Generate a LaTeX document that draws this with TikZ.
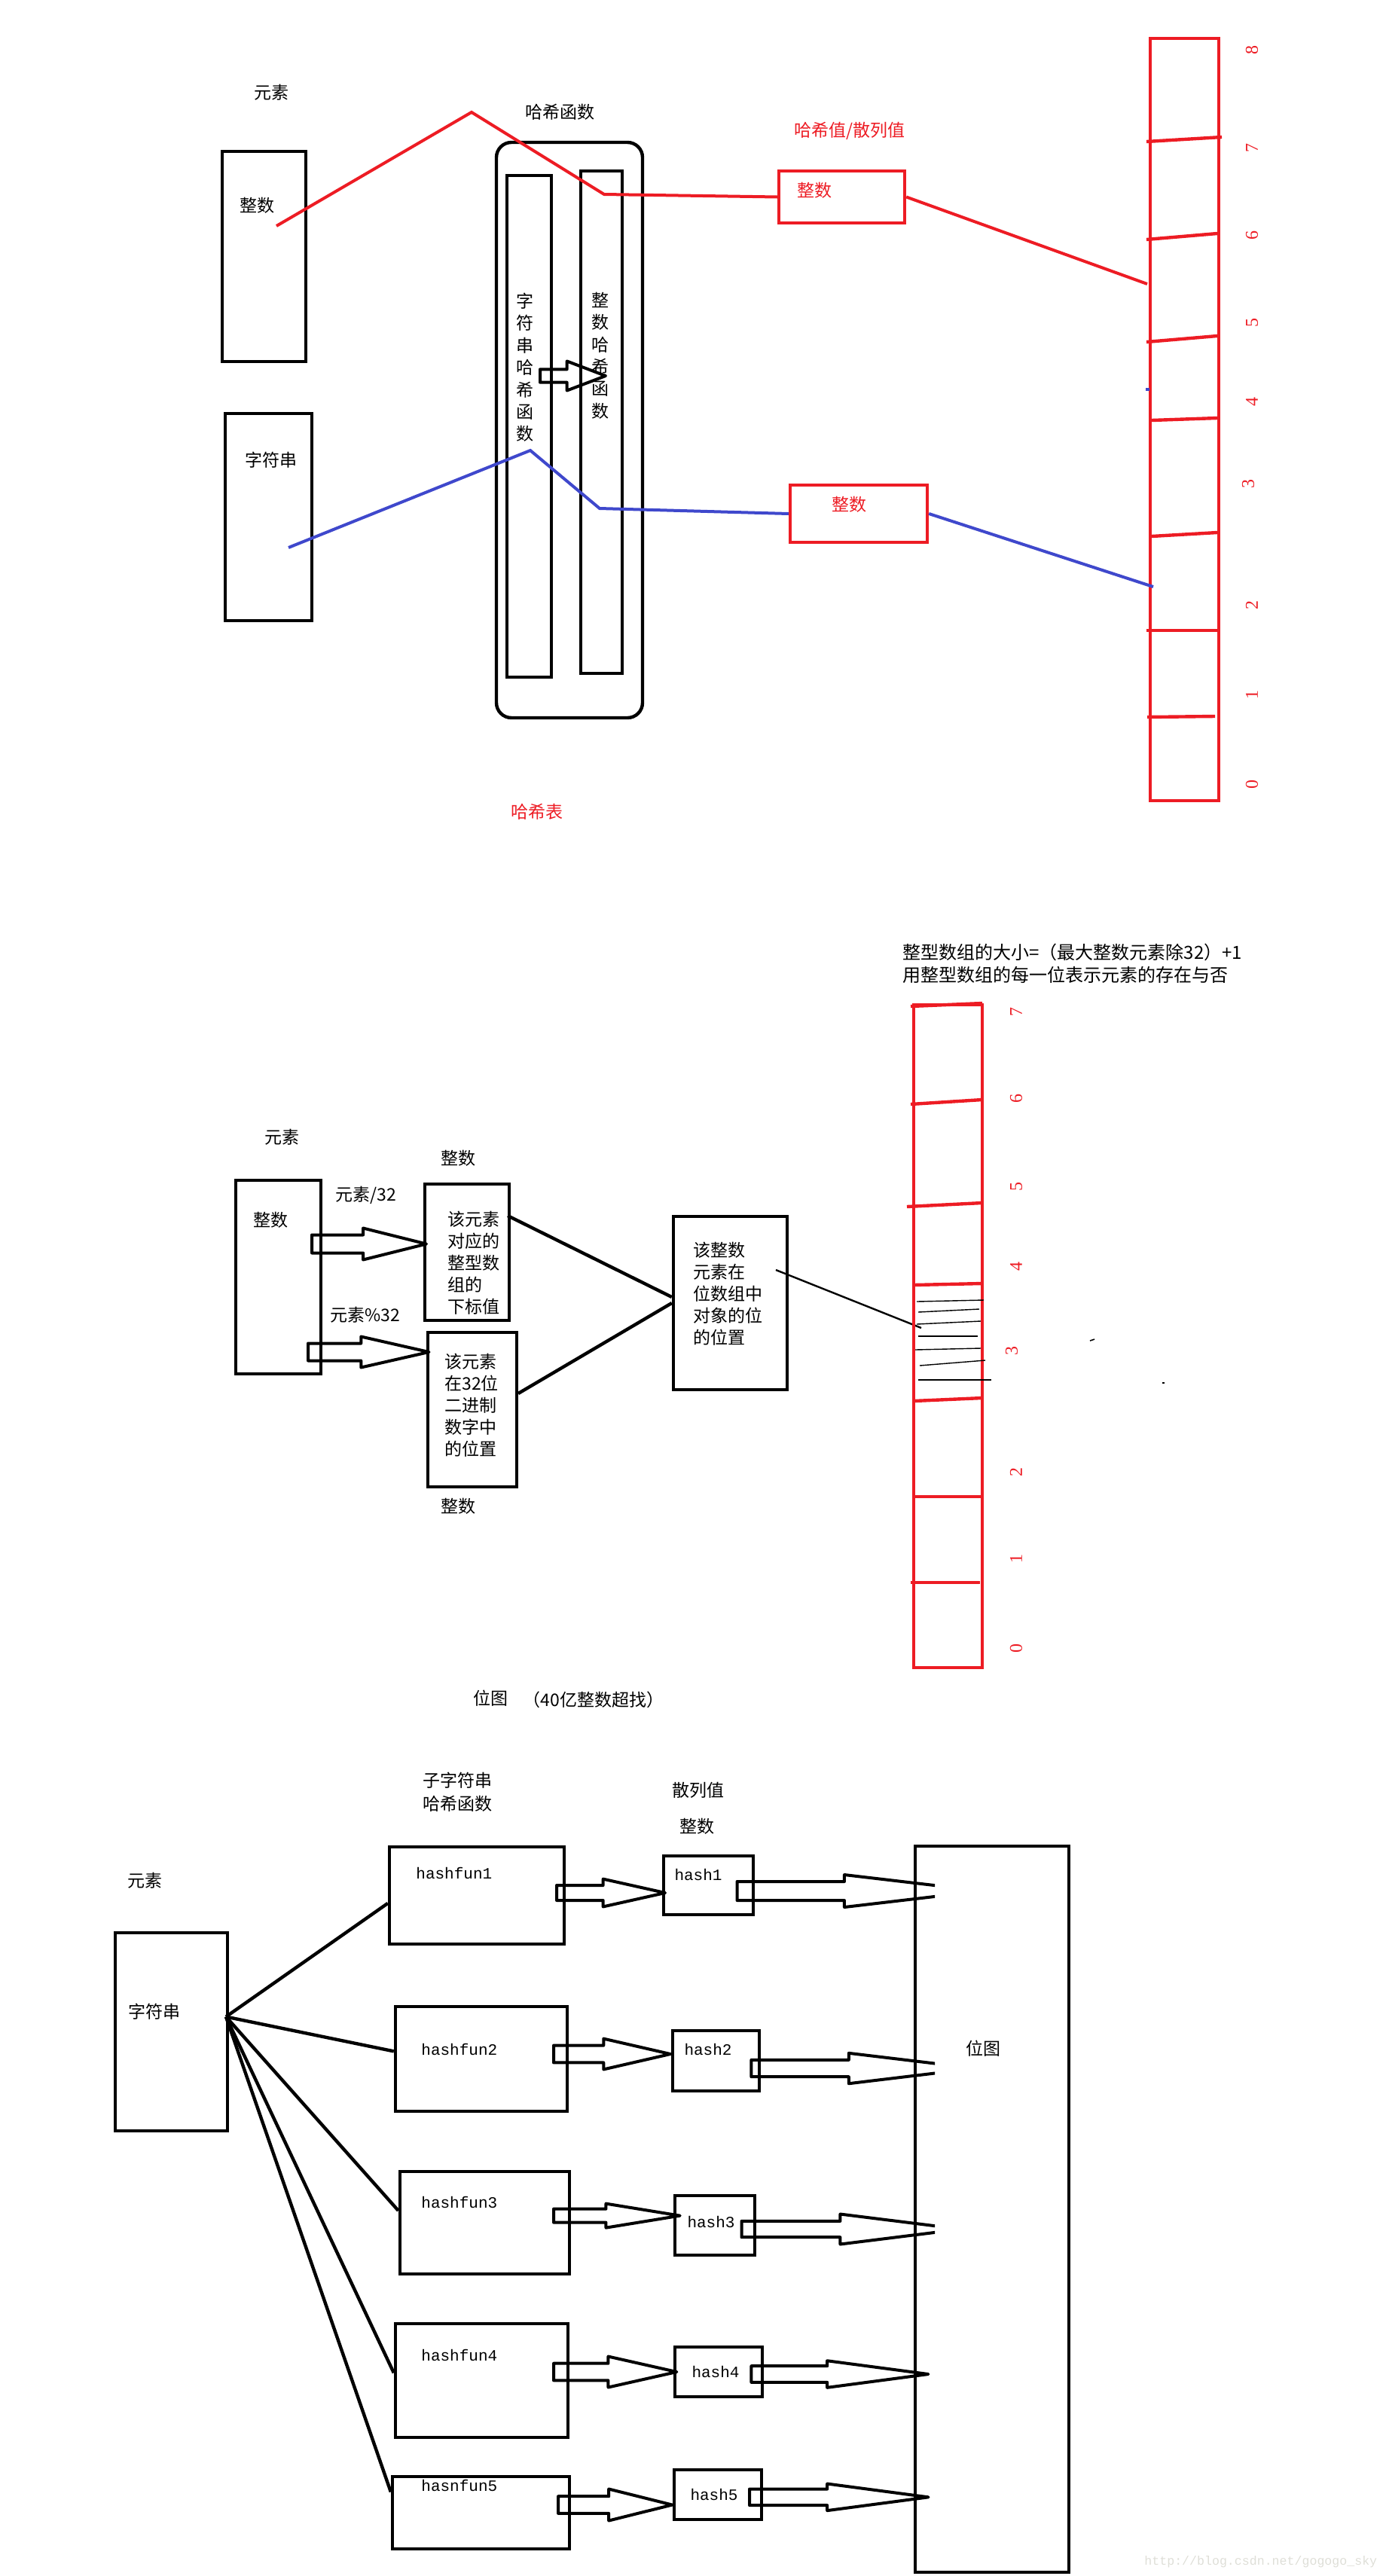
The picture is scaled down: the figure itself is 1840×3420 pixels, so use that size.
\documentclass[tikz,border=0pt]{standalone}
\usepackage{fontspec}
\setmainfont{Liberation Serif}
\newfontfamily\cjk{Noto Sans CJK SC}
\newfontfamily\mono{Liberation Mono}
\usetikzlibrary{fit,shapes.arrows}
\definecolor{pred}{RGB}{237,28,36}
\definecolor{pblue}{RGB}{63,72,204}
\definecolor{wmgray}{RGB}{222,222,215}

\begin{document}
\begin{tikzpicture}[x=0.5pt, y=-0.5pt,
    box/.style={draw, line width=2.2pt, inner sep=0pt},
    redbox/.style={draw=pred, line width=2.2pt, inner sep=0pt},
    txt/.style={font=\cjk\fontsize{11.5}{14.5}\selectfont, inner sep=0pt},
    redtxt/.style={txt, text=pred},
    vtxt/.style={font=\cjk\fontsize{11.5}{14.7}\selectfont, inner sep=0pt, align=center},
    code/.style={font=\mono\fontsize{10.5}{12}\selectfont, inner sep=0pt},
    num/.style={font=\fontsize{12}{12}\selectfont, text=pred, rotate=90, inner sep=0pt},
    cell/.style={pred, line width=2.2pt},
    hatch/.style={line width=0.7pt},
    link/.style={line width=2.2pt},
    redline/.style={pred, line width=2pt},
    blueline/.style={pblue, line width=2pt},
    barrow/.style n args={4}{single arrow, draw, line width=2pt, line join=round, anchor=tail,
        minimum width=0pt, single arrow head indent=0pt, minimum height=#1,
        inner sep=#2, single arrow head extend=#3, single arrow tip angle=#4}]

    \useasboundingbox (0,0) rectangle (1840,3420);

    % Elements
    \node[txt] (elem1) at (360,123) {元素};
    \node[box, fit={(295,201) (406,480)}] (intA) {};
    \node[txt] (intAtxt) at (341,273) {整数};
    \node[box, fit={(299,549) (414,824)}] (strB) {};
    \node[txt] (strBtxt) at (360,611) {字符串};

    % Hash functions
    \node[txt] (hfun) at (743,149) {哈希函数};
    \node[box, rounded corners=10pt, fit={(659,189) (853,953)}] (hbox) {};
    \node[box, fit={(673,233) (732,899)}] (shash) {};
    \node[box, fit={(771,227) (826,894)}] (ihash) {};
    \node[vtxt] (shtxt) at (697,488) {字\\符\\串\\哈\\希\\函\\数};
    \node[vtxt] (ihtxt) at (797,472) {整\\数\\哈\\希\\函\\数};
    \node[barrow={43.5pt}{3.35pt}{5.4pt}{41.6}] (sarr) at (715,499) {};

    % Hash values
    \node[redtxt] (hval) at (1128,174) {哈希值/散列值};
    \node[redbox, fit={(1034,227) (1201,296)}] (hv1) {};
    \node[redtxt] (hv1txt) at (1081,253) {整数};
    \node[redbox, fit={(1049,644) (1231,720)}] (hv2) {};
    \node[redtxt] (hv2txt) at (1127,670) {整数};
    \node[redtxt] (htab) at (713,1078) {哈希表};

    % Hash table
    \node[redbox, fit={(1527,51) (1618,1063)}] (tab1) {};
    \foreach \xa/\ya/\xb/\yb in {1522/188/1622/182, 1522/318/1616/310, 1522/454/1616/446,
        1529/558/1616/555, 1529/712/1616/707, 1522/837/1616/837, 1523/952/1613/951}
        \draw[cell] (\xa,\ya) -- (\xb,\yb);
    \foreach \n/\x/\y in {8/1662/67, 7/1662/196, 6/1662/312, 5/1662/428, 4/1662/533,
        3/1657/642, 2/1662/803, 1/1662/922, 0/1662/1041}
        \node[num] (ta-\n) at (\x,\y) {\n};

    % Lines into the table
    \coordinate (r0) at (367,300);
    \coordinate (r1) at (626,149);
    \coordinate (r2) at (802,258);
    \coordinate (r3) at (1523,377);
    \draw[redline] (r0) -- (r1) -- (r2) -- (hv1.west);
    \draw[redline] (hv1.east) -- (r3);
    \coordinate (bl0) at (383,727);
    \coordinate (bl1) at (704,598);
    \coordinate (bl2) at (796,675);
    \coordinate (bl3) at (1531,779);
    \draw[blueline] (bl0) -- (bl1) -- (bl2) -- (hv2.west);
    \draw[blueline] (hv2.east) -- (bl3);
    \draw[blueline] (1521,517) -- (1526,517);

    % Bitmap
    \node[txt, align=left, anchor=west, font=\cjk\fontsize{12}{15}\selectfont] (bmhead) at (1198,1279)
        {整型数组的大小=（最大整数元素除32）+1\\用整型数组的每一位表示元素的存在与否};
    \node[txt] (elem2) at (374,1510) {元素};
    \node[box, fit={(313,1567) (426,1824)}] (int2) {};
    \node[txt] (int2txt) at (359,1620) {整数};
    \node[txt, anchor=west] (div32) at (445,1587) {元素/32};
    \node[txt, anchor=west] (mod32) at (438,1746) {元素\%32};
    \node[barrow={76pt}{5pt}{4.5pt}{28.1}] (d1) at (412,1651.5) {};
    \node[barrow={80.25pt}{4.75pt}{4.5pt}{25.6}] (d2) at (407,1795) {};

    \node[txt] (idxlab) at (608,1538) {整数};
    \node[box, fit={(564,1572) (676,1753)}] (idx) {};
    \node[txt, align=left, anchor=west] (idxtxt) at (594,1676.5) {该元素\\对应的\\整型数\\组的\\下标值};
    \node[box, fit={(568,1769) (686,1974)}] (pos) {};
    \node[txt, align=left, anchor=west] (postxt) at (590,1866) {该元素\\在32位\\二进制\\数字中\\的位置};
    \node[txt] (poslab) at (608,2000) {整数};
    \node[box, fit={(894,1615) (1045,1845)}] (bitpos) {};
    \node[txt, align=left, anchor=west] (bitpostxt) at (920,1718) {该整数\\元素在\\位数组中\\对象的位\\的位置};

    \coordinate (l1) at (674,1614);
    \coordinate (l2) at (688,1850);
    \draw[link] (l1) -- ([yshift=4pt]bitpos.west);
    \draw[link] (l2) -- (bitpos.west);
    \coordinate (t0) at (1030,1686);
    \coordinate (t1) at (1223,1763);
    \draw[line width=1.2pt] (t0) -- (t1);

    % Bit array
    \node[redbox, fit={(1213,1334) (1304,2214)}] (tab2) {};
    \foreach \xa/\ya/\xb/\yb in {1209/1336/1304/1332, 1209/1466/1304/1460, 1204/1602/1304/1597,
        1213/1706/1304/1704, 1213/1860/1304/1856, 1213/1987/1304/1987, 1209/2101/1301/2101}
        \draw[cell] (\xa,\ya) -- (\xb,\yb);
    \foreach \xa/\ya/\xb/\yb in {1217/1728/1306/1726, 1219/1742/1300/1738, 1217/1758/1302/1754,
        1219/1774/1298/1774, 1215/1792/1302/1790, 1221/1813/1308/1806, 1219/1832/1316/1832}
        \draw[hatch] (\xa,\ya) -- (\xb,\yb);
    \foreach \n/\x/\y in {7/1349/1343, 6/1349/1458, 5/1349/1575, 4/1349/1681,
        3/1343/1793, 2/1349/1954, 1/1349/2069, 0/1349/2188}
        \node[num] (tb-\n) at (\x,\y) {\n};
    \draw[line width=0.8pt] (1447,1780) -- (1453,1778);
    \draw[line width=0.8pt] (1543,1836) -- (1546,1836);

    \node[txt] (bmcap) at (651,2255) {位图};
    \node[txt] (bmcap2) at (788,2257) {（40亿整数超找）};

    % Bloom filter
    \node[txt, align=center, font=\cjk\fontsize{11.5}{15.3}\selectfont] (subh) at (607,2379) {子字符串\\哈希函数};
    \node[txt] (hvlab) at (927,2377) {散列值};
    \node[txt] (hvint) at (925,2425) {整数};
    \node[txt] (elem3) at (192,2497) {元素};
    \node[box, fit={(153,2566) (302,2829)}] (str3) {};
    \node[txt] (str3txt) at (205,2671) {字符串};
    \coordinate (fan) at (300,2677.5);

    \node[box, fit={(517,2452) (749,2581)}] (hf1) {};
    \node[box, fit={(525,2664) (753,2803)}] (hf2) {};
    \node[box, fit={(531,2883) (756,3019)}] (hf3) {};
    \node[box, fit={(525,3085) (754,3236)}] (hf4) {};
    \node[box, fit={(521,3288) (756,3384)}] (hf5) {};
    \node[code, anchor=west] (hf1txt) at (552,2487) {hashfun1};
    \node[code, anchor=west] (hf2txt) at (559,2721) {hashfun2};
    \node[code, anchor=west] (hf3txt) at (559,2924) {hashfun3};
    \node[code, anchor=west] (hf4txt) at (559,3127) {hashfun4};
    \node[code, anchor=west] (hf5txt) at (559,3300) {hasnfun5};

    \draw[link] (fan) -- (hf1.185);
    \draw[link] (fan) -- (hf2.175);
    \draw[link] (fan) -- (hf3.172);
    \draw[link] (fan) -- (hf4.175);
    \draw[link] (fan) -- (hf5.167);

    \node[box, fit={(881,2464) (1000,2542)}] (h1) {};
    \node[box, fit={(893,2696) (1008,2776)}] (h2) {};
    \node[box, fit={(896,2915) (1002,2994)}] (h3) {};
    \node[box, fit={(896,3116) (1012,3182)}] (h4) {};
    \node[box, fit={(895,3279) (1011,3345)}] (h5) {};
    \node[code] (h1txt) at (927,2489) {hash1};
    \node[code] (h2txt) at (940,2721) {hash2};
    \node[code] (h3txt) at (944,2950) {hash3};
    \node[code] (h4txt) at (950,3149) {hash4};
    \node[code] (h5txt) at (948,3312) {hash5};

    \node[barrow={72pt}{4pt}{4.2pt}{25.2}] (a1) at (737,2513) {};
    \node[barrow={77.5pt}{4.7pt}{4.5pt}{25.9}] (a2) at (733,2727) {};
    \node[barrow={83.85pt}{3.5pt}{3.5pt}{18.5}] (a3) at (733,2941.6) {};
    \node[barrow={81.7pt}{4.65pt}{4.6pt}{25.4}] (a4) at (733,3149) {};
    \node[barrow={75.7pt}{4.65pt}{4.85pt}{28}] (a5) at (739,3325.5) {};

    \node[box, fit={(1215,2451) (1419,3415)}] (bitmap) {};
    \node[txt] (bitmaptxt) at (1305,2720) {位图};

    \begin{scope}
        \clip (900,2400) rectangle (1241,3000);
        \node[barrow={162.75pt}{5.25pt}{4.5pt}{13.4}] (b1) at (976.5,2510.5) {};
        \node[barrow={148.8pt}{4.6pt}{4.5pt}{13.7}] (b2) at (995.4,2746) {};
        \node[barrow={145.75pt}{4.35pt}{4.65pt}{14.2}] (b3) at (982.5,2959.5) {};
    \end{scope}
    \node[barrow={117.5pt}{4.4pt}{3.5pt}{15.1}] (b4) at (995.4,3152) {};
    \node[barrow={118.75pt}{4.4pt}{3.5pt}{15.1}] (b5) at (993,3315.3) {};

    \node[font=\mono\fontsize{8.3}{10}\selectfont, text=wmgray, anchor=west, inner sep=0pt] (wm) at (1519,3401)
        {http://blog.csdn.net/gogogo\_sky};
\end{tikzpicture}
\end{document}
